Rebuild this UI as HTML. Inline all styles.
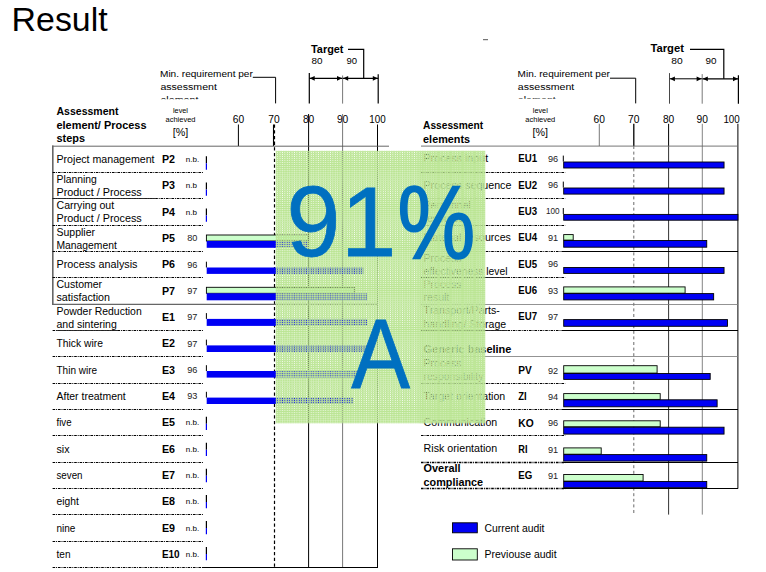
<!DOCTYPE html>
<html><head><meta charset="utf-8"><title>Result</title>
<style>html,body{margin:0;padding:0;background:#fff;overflow:hidden}svg{display:block}text{font-family:"Liberation Sans",sans-serif;}</style></head>
<body>
<svg width="766" height="572" viewBox="0 0 766 572">
<text x="11.6" y="31.4" font-size="34" textLength="96.0" lengthAdjust="spacingAndGlyphs">Result</text>
<line x1="483" y1="39.70" x2="488" y2="39.70" stroke="#555" stroke-width="1"/>
<text x="160.0" y="76.7" font-size="9.6" textLength="92.8" lengthAdjust="spacingAndGlyphs">Min. requirement per</text>
<text x="160.4" y="89.9" font-size="9.6" textLength="56.5" lengthAdjust="spacingAndGlyphs">assessment</text>
<clipPath id="cl1"><rect x="150" y="90" width="120" height="9.2"/></clipPath>
<text x="160.4" y="103.0" font-size="9.6" textLength="38.0" lengthAdjust="spacingAndGlyphs" clip-path="url(#cl1)">element</text>
<polyline points="252.8,77.3 275.6,77.3 275.6,103.4" fill="none" stroke="#000" stroke-width="1"/>
<text x="311" y="52.8" font-size="11.3" font-weight="bold" textLength="32.5" lengthAdjust="spacingAndGlyphs">Target</text>
<text x="311.4" y="63.6" font-size="9.3" textLength="11.0" lengthAdjust="spacingAndGlyphs">80</text>
<text x="346.4" y="63.6" font-size="9.3" textLength="10.6" lengthAdjust="spacingAndGlyphs">90</text>
<polyline points="348,49.3 363.7,49.3 363.7,78.3" fill="none" stroke="#000" stroke-width="1.2"/>
<line x1="309.3" y1="78.30" x2="342.6" y2="78.30" stroke="#000" stroke-width="1.3"/>
<line x1="342.6" y1="78.30" x2="378.2" y2="78.30" stroke="#000" stroke-width="1.3"/>
<polygon points="309.7,78.3 314.7,75.89999999999999 314.7,80.7" fill="#000"/>
<polygon points="342.0,78.3 337.0,75.89999999999999 337.0,80.7" fill="#000"/>
<polygon points="343.20000000000005,78.3 348.20000000000005,75.89999999999999 348.20000000000005,80.7" fill="#000"/>
<polygon points="377.8,78.3 372.8,75.89999999999999 372.8,80.7" fill="#000"/>
<line x1="309.3" y1="73.00" x2="309.3" y2="103.60" stroke="#000" stroke-width="1.2"/>
<line x1="342.6" y1="75.50" x2="342.6" y2="103.60" stroke="#555" stroke-width="0.8"/>
<line x1="378.2" y1="74.20" x2="378.2" y2="103.60" stroke="#000" stroke-width="1.2"/>
<text x="56.5" y="114.9" font-size="10.5" font-weight="bold" textLength="62.0" lengthAdjust="spacingAndGlyphs">Assessment</text>
<text x="56.5" y="128.6" font-size="10.5" font-weight="bold" textLength="90.0" lengthAdjust="spacingAndGlyphs">element/ Process</text>
<text x="56.5" y="142.3" font-size="10.5" font-weight="bold" textLength="28.5" lengthAdjust="spacingAndGlyphs">steps</text>
<text x="180.5" y="112.6" font-size="7" text-anchor="middle" textLength="15.0" lengthAdjust="spacingAndGlyphs">level</text>
<text x="180.5" y="122.4" font-size="7" text-anchor="middle" textLength="30.0" lengthAdjust="spacingAndGlyphs">achieved</text>
<text x="180.5" y="136.2" font-size="10.5" text-anchor="middle" textLength="15.5" lengthAdjust="spacingAndGlyphs">[%]</text>
<text x="238.4" y="122.5" font-size="10.5" text-anchor="middle" textLength="11.4" lengthAdjust="spacingAndGlyphs">60</text>
<text x="273.9" y="122.5" font-size="10.5" text-anchor="middle" textLength="11.4" lengthAdjust="spacingAndGlyphs">70</text>
<text x="308.6" y="122.5" font-size="10.5" text-anchor="middle" textLength="11.4" lengthAdjust="spacingAndGlyphs">80</text>
<text x="342.6" y="122.5" font-size="10.5" text-anchor="middle" textLength="11.4" lengthAdjust="spacingAndGlyphs">90</text>
<text x="377.5" y="122.5" font-size="10.5" text-anchor="middle" textLength="16.4" lengthAdjust="spacingAndGlyphs">100</text>
<line x1="238.4" y1="124.50" x2="238.4" y2="146.00" stroke="#000" stroke-width="1"/>
<line x1="273.5" y1="124.50" x2="273.5" y2="146.00" stroke="#000" stroke-width="1.1"/>
<line x1="274.5" y1="124.50" x2="274.5" y2="567.00" stroke="#000" stroke-width="1.2" stroke-dasharray="3.3 2.4"/>
<line x1="308.6" y1="114.00" x2="308.6" y2="567.00" stroke="#000" stroke-width="1"/>
<line x1="342.6" y1="114.00" x2="342.6" y2="567.00" stroke="#555" stroke-width="0.8"/>
<line x1="377.5" y1="124.50" x2="377.5" y2="567.00" stroke="#000" stroke-width="1"/>
<line x1="52" y1="146.20" x2="389" y2="146.20" stroke="#555" stroke-width="0.9"/>
<line x1="202" y1="567.50" x2="378" y2="567.50" stroke="#000" stroke-width="1.2"/>
<line x1="52.8" y1="145.50" x2="52.8" y2="304.90" stroke="#666" stroke-width="1.6"/>
<line x1="52" y1="304.40" x2="378" y2="304.40" stroke="#666" stroke-width="1.1"/>
<line x1="52.6" y1="172.50" x2="203.8" y2="172.50" stroke="#000" stroke-width="1" stroke-dasharray="2.6 0.9 1 0.9"/>
<text x="56.5" y="162.8" font-size="10.5" textLength="98.0" lengthAdjust="spacingAndGlyphs">Project management</text>
<text x="161.9" y="162.9" font-size="10.8" font-weight="bold" textLength="13.1" lengthAdjust="spacingAndGlyphs">P2</text>
<text x="185.8" y="162.0" font-size="7.3" textLength="13.4" lengthAdjust="spacingAndGlyphs">n.b.</text>
<line x1="206.4" y1="156.36" x2="206.4" y2="163.36" stroke="#000" stroke-width="1.2"/>
<line x1="206.4" y1="163.36" x2="206.4" y2="169.66" stroke="#0000f4" stroke-width="1.2"/>
<line x1="52.6" y1="198.50" x2="203.8" y2="198.50" stroke="#000" stroke-width="1" stroke-dasharray="2.6 0.9 1 0.9"/>
<line x1="53" y1="198.50" x2="155" y2="198.50" stroke="#222" stroke-width="0.9"/>
<text x="56.5" y="182.8" font-size="10.5" textLength="40.4" lengthAdjust="spacingAndGlyphs">Planning</text>
<text x="56.5" y="195.9" font-size="10.5" textLength="85.2" lengthAdjust="spacingAndGlyphs">Product / Process</text>
<text x="161.9" y="189.2" font-size="10.8" font-weight="bold" textLength="13.1" lengthAdjust="spacingAndGlyphs">P3</text>
<text x="185.8" y="188.3" font-size="7.3" textLength="11.2" lengthAdjust="spacingAndGlyphs">n.b</text>
<line x1="206.4" y1="182.40" x2="206.4" y2="189.40" stroke="#000" stroke-width="1.2"/>
<line x1="206.4" y1="189.40" x2="206.4" y2="195.70" stroke="#0000f4" stroke-width="1.2"/>
<line x1="52.6" y1="225.50" x2="203.8" y2="225.50" stroke="#000" stroke-width="1" stroke-dasharray="2.6 0.9 1 0.9"/>
<text x="56.5" y="209.1" font-size="10.5" textLength="57.7" lengthAdjust="spacingAndGlyphs">Carrying out</text>
<text x="56.5" y="222.2" font-size="10.5" textLength="85.2" lengthAdjust="spacingAndGlyphs">Product / Process</text>
<text x="161.9" y="215.5" font-size="10.8" font-weight="bold" textLength="13.1" lengthAdjust="spacingAndGlyphs">P4</text>
<text x="185.8" y="214.6" font-size="7.3" textLength="11.2" lengthAdjust="spacingAndGlyphs">n.b</text>
<line x1="206.4" y1="208.44" x2="206.4" y2="215.44" stroke="#000" stroke-width="1.2"/>
<line x1="206.4" y1="215.44" x2="206.4" y2="221.74" stroke="#0000f4" stroke-width="1.2"/>
<line x1="52.6" y1="251.50" x2="203.8" y2="251.50" stroke="#000" stroke-width="1" stroke-dasharray="2.6 0.9 1 0.9"/>
<text x="56.5" y="235.5" font-size="10.5" textLength="38.5" lengthAdjust="spacingAndGlyphs">Supplier</text>
<text x="56.5" y="248.6" font-size="10.5" textLength="60.3" lengthAdjust="spacingAndGlyphs">Management</text>
<text x="161.9" y="241.9" font-size="10.8" font-weight="bold" textLength="13.1" lengthAdjust="spacingAndGlyphs">P5</text>
<text x="192.3" y="241.4" font-size="9.2" text-anchor="middle" fill="#222" textLength="10.2" lengthAdjust="spacingAndGlyphs">80</text>
<rect x="206.40" y="235.00" width="101.56" height="6.00" fill="#ccffcc" stroke="#000" stroke-width="0.9"/>
<rect x="206.70" y="241.00" width="101.26" height="6.80" fill="#0000f4"/>
<line x1="52.6" y1="277.50" x2="203.8" y2="277.50" stroke="#000" stroke-width="1" stroke-dasharray="2.6 0.9 1 0.9"/>
<text x="56.5" y="268.1" font-size="10.5" textLength="81.0" lengthAdjust="spacingAndGlyphs">Process analysis</text>
<text x="161.9" y="268.2" font-size="10.8" font-weight="bold" textLength="13.1" lengthAdjust="spacingAndGlyphs">P6</text>
<text x="192.3" y="267.7" font-size="9.2" text-anchor="middle" fill="#222" textLength="10.2" lengthAdjust="spacingAndGlyphs">96</text>
<line x1="206.4" y1="261.70" x2="206.4" y2="267.50" stroke="#000" stroke-width="1"/>
<rect x="206.70" y="267.50" width="156.91" height="6.40" fill="#0000f4"/>
<text x="56.5" y="288.2" font-size="10.5" textLength="45.6" lengthAdjust="spacingAndGlyphs">Customer</text>
<text x="56.5" y="301.3" font-size="10.5" textLength="53.5" lengthAdjust="spacingAndGlyphs">satisfaction</text>
<text x="161.9" y="294.6" font-size="10.8" font-weight="bold" textLength="13.1" lengthAdjust="spacingAndGlyphs">P7</text>
<text x="192.3" y="294.1" font-size="9.2" text-anchor="middle" fill="#222" textLength="10.2" lengthAdjust="spacingAndGlyphs">97</text>
<rect x="206.40" y="287.30" width="147.82" height="6.00" fill="#ccffcc" stroke="#000" stroke-width="0.9"/>
<rect x="206.70" y="293.30" width="160.39" height="7.00" fill="#0000f4"/>
<line x1="52.6" y1="330.50" x2="203.8" y2="330.50" stroke="#000" stroke-width="1" stroke-dasharray="2.6 0.9 1 0.9"/>
<line x1="56" y1="330.50" x2="118" y2="330.50" stroke="#222" stroke-width="0.9"/>
<text x="56.5" y="314.5" font-size="10.5" textLength="85.2" lengthAdjust="spacingAndGlyphs">Powder Reduction</text>
<text x="56.5" y="327.6" font-size="10.5" textLength="60.3" lengthAdjust="spacingAndGlyphs">and sintering</text>
<text x="161.9" y="320.9" font-size="10.8" font-weight="bold" textLength="13.1" lengthAdjust="spacingAndGlyphs">E1</text>
<text x="192.3" y="320.4" font-size="9.2" text-anchor="middle" fill="#222" textLength="10.2" lengthAdjust="spacingAndGlyphs">97</text>
<line x1="206.4" y1="313.10" x2="206.4" y2="318.90" stroke="#000" stroke-width="1"/>
<rect x="206.70" y="318.90" width="160.39" height="7.00" fill="#0000f4"/>
<line x1="52.6" y1="356.50" x2="203.8" y2="356.50" stroke="#000" stroke-width="1" stroke-dasharray="2.6 0.9 1 0.9"/>
<text x="56.5" y="347.1" font-size="10.5" textLength="46.4" lengthAdjust="spacingAndGlyphs">Thick wire</text>
<text x="161.9" y="347.2" font-size="10.8" font-weight="bold" textLength="13.1" lengthAdjust="spacingAndGlyphs">E2</text>
<text x="192.3" y="346.7" font-size="9.2" text-anchor="middle" fill="#222" textLength="10.2" lengthAdjust="spacingAndGlyphs">97</text>
<line x1="206.4" y1="339.60" x2="206.4" y2="345.40" stroke="#000" stroke-width="1"/>
<rect x="206.70" y="345.40" width="160.39" height="6.60" fill="#0000f4"/>
<line x1="52.6" y1="383.50" x2="203.8" y2="383.50" stroke="#000" stroke-width="1" stroke-dasharray="2.6 0.9 1 0.9"/>
<text x="56.5" y="373.5" font-size="10.5" textLength="40.6" lengthAdjust="spacingAndGlyphs">Thin wire</text>
<text x="161.9" y="373.6" font-size="10.8" font-weight="bold" textLength="13.1" lengthAdjust="spacingAndGlyphs">E3</text>
<text x="192.3" y="373.1" font-size="9.2" text-anchor="middle" fill="#222" textLength="10.2" lengthAdjust="spacingAndGlyphs">96</text>
<line x1="206.4" y1="365.20" x2="206.4" y2="371.00" stroke="#000" stroke-width="1"/>
<rect x="206.70" y="371.00" width="156.91" height="6.60" fill="#0000f4"/>
<line x1="52.6" y1="409.50" x2="203.8" y2="409.50" stroke="#000" stroke-width="1" stroke-dasharray="2.6 0.9 1 0.9"/>
<text x="56.5" y="399.8" font-size="10.5" textLength="69.2" lengthAdjust="spacingAndGlyphs">After treatment</text>
<text x="161.9" y="399.9" font-size="10.8" font-weight="bold" textLength="13.1" lengthAdjust="spacingAndGlyphs">E4</text>
<text x="192.3" y="399.4" font-size="9.2" text-anchor="middle" fill="#222" textLength="10.2" lengthAdjust="spacingAndGlyphs">93</text>
<line x1="206.4" y1="391.80" x2="206.4" y2="397.60" stroke="#000" stroke-width="1"/>
<rect x="206.70" y="397.60" width="146.47" height="6.40" fill="#0000f4"/>
<line x1="52.6" y1="435.50" x2="203.8" y2="435.50" stroke="#000" stroke-width="1" stroke-dasharray="2.6 0.9 1 0.9"/>
<text x="56.5" y="426.2" font-size="10.5" textLength="15.0" lengthAdjust="spacingAndGlyphs">five</text>
<text x="161.9" y="426.3" font-size="10.8" font-weight="bold" textLength="13.1" lengthAdjust="spacingAndGlyphs">E5</text>
<text x="185.8" y="425.4" font-size="7.3" textLength="13.4" lengthAdjust="spacingAndGlyphs">n.b.</text>
<line x1="206.4" y1="416.76" x2="206.4" y2="423.76" stroke="#000" stroke-width="1.2"/>
<line x1="206.4" y1="423.76" x2="206.4" y2="430.06" stroke="#0000f4" stroke-width="1.2"/>
<line x1="52.6" y1="462.50" x2="203.8" y2="462.50" stroke="#000" stroke-width="1" stroke-dasharray="2.6 0.9 1 0.9"/>
<text x="56.5" y="452.5" font-size="10.5" textLength="13.1" lengthAdjust="spacingAndGlyphs">six</text>
<text x="161.9" y="452.6" font-size="10.8" font-weight="bold" textLength="13.1" lengthAdjust="spacingAndGlyphs">E6</text>
<text x="185.8" y="451.7" font-size="7.3" textLength="13.4" lengthAdjust="spacingAndGlyphs">n.b.</text>
<line x1="206.4" y1="442.80" x2="206.4" y2="449.80" stroke="#000" stroke-width="1.2"/>
<line x1="206.4" y1="449.80" x2="206.4" y2="456.10" stroke="#0000f4" stroke-width="1.2"/>
<line x1="52.6" y1="488.50" x2="203.8" y2="488.50" stroke="#000" stroke-width="1" stroke-dasharray="2.6 0.9 1 0.9"/>
<text x="56.5" y="478.8" font-size="10.5" textLength="26.0" lengthAdjust="spacingAndGlyphs">seven</text>
<text x="161.9" y="478.9" font-size="10.8" font-weight="bold" textLength="13.1" lengthAdjust="spacingAndGlyphs">E7</text>
<text x="185.8" y="478.0" font-size="7.3" textLength="13.4" lengthAdjust="spacingAndGlyphs">n.b.</text>
<line x1="206.4" y1="468.84" x2="206.4" y2="475.84" stroke="#000" stroke-width="1.2"/>
<line x1="206.4" y1="475.84" x2="206.4" y2="482.14" stroke="#0000f4" stroke-width="1.2"/>
<line x1="52.6" y1="514.50" x2="203.8" y2="514.50" stroke="#000" stroke-width="1" stroke-dasharray="2.6 0.9 1 0.9"/>
<text x="56.5" y="505.2" font-size="10.5" textLength="22.3" lengthAdjust="spacingAndGlyphs">eight</text>
<text x="161.9" y="505.3" font-size="10.8" font-weight="bold" textLength="13.1" lengthAdjust="spacingAndGlyphs">E8</text>
<text x="185.8" y="504.4" font-size="7.3" textLength="13.4" lengthAdjust="spacingAndGlyphs">n.b.</text>
<line x1="206.4" y1="494.88" x2="206.4" y2="501.88" stroke="#000" stroke-width="1.2"/>
<line x1="206.4" y1="501.88" x2="206.4" y2="508.18" stroke="#0000f4" stroke-width="1.2"/>
<line x1="52.6" y1="541.50" x2="203.8" y2="541.50" stroke="#000" stroke-width="1" stroke-dasharray="2.6 0.9 1 0.9"/>
<text x="56.5" y="531.5" font-size="10.5" textLength="18.9" lengthAdjust="spacingAndGlyphs">nine</text>
<text x="161.9" y="531.6" font-size="10.8" font-weight="bold" textLength="13.1" lengthAdjust="spacingAndGlyphs">E9</text>
<text x="185.8" y="530.7" font-size="7.3" textLength="13.4" lengthAdjust="spacingAndGlyphs">n.b.</text>
<line x1="206.4" y1="520.92" x2="206.4" y2="527.92" stroke="#000" stroke-width="1.2"/>
<line x1="206.4" y1="527.92" x2="206.4" y2="534.22" stroke="#0000f4" stroke-width="1.2"/>
<line x1="52.6" y1="567.50" x2="203.8" y2="567.50" stroke="#000" stroke-width="1" stroke-dasharray="2.6 0.9 1 0.9"/>
<text x="56.5" y="557.9" font-size="10.5" textLength="14.0" lengthAdjust="spacingAndGlyphs">ten</text>
<text x="161.9" y="558.0" font-size="10.8" font-weight="bold" textLength="17.8" lengthAdjust="spacingAndGlyphs">E10</text>
<text x="185.8" y="557.1" font-size="7.3" textLength="13.4" lengthAdjust="spacingAndGlyphs">n.b.</text>
<line x1="206.4" y1="546.96" x2="206.4" y2="553.96" stroke="#000" stroke-width="1.2"/>
<line x1="206.4" y1="553.96" x2="206.4" y2="560.26" stroke="#0000f4" stroke-width="1.2"/>
<text x="517.6" y="76.7" font-size="9.6" textLength="92.2" lengthAdjust="spacingAndGlyphs">Min. requirement per</text>
<text x="517.8" y="89.9" font-size="9.6" textLength="56.5" lengthAdjust="spacingAndGlyphs">assessment</text>
<clipPath id="cl2"><rect x="510" y="90" width="120" height="8.8"/></clipPath>
<text x="517.8" y="102.6" font-size="9.6" textLength="38.0" lengthAdjust="spacingAndGlyphs" clip-path="url(#cl2)">element</text>
<polyline points="610,78.2 635.7,78.2 635.7,103.4" fill="none" stroke="#000" stroke-width="1"/>
<text x="650.4" y="51.8" font-size="11.3" font-weight="bold" textLength="33.5" lengthAdjust="spacingAndGlyphs">Target</text>
<text x="671.2" y="63.7" font-size="9.3" textLength="11.4" lengthAdjust="spacingAndGlyphs">80</text>
<text x="705.5" y="63.7" font-size="9.3" textLength="11.0" lengthAdjust="spacingAndGlyphs">90</text>
<polyline points="690,49.4 723.8,49.4 723.8,78.8" fill="none" stroke="#000" stroke-width="1.2"/>
<line x1="669.5" y1="78.80" x2="702.2" y2="78.80" stroke="#000" stroke-width="1.0"/>
<line x1="702.2" y1="78.80" x2="738.4" y2="78.80" stroke="#000" stroke-width="1.3"/>
<polygon points="669.9,78.8 674.9,76.39999999999999 674.9,81.2" fill="#000"/>
<polygon points="701.6,78.8 696.6,76.39999999999999 696.6,81.2" fill="#000"/>
<polygon points="702.8000000000001,78.8 707.8000000000001,76.39999999999999 707.8000000000001,81.2" fill="#000"/>
<polygon points="738.0,78.8 733.0,76.39999999999999 733.0,81.2" fill="#000"/>
<line x1="669.5" y1="73.10" x2="669.5" y2="103.70" stroke="#333" stroke-width="0.9"/>
<line x1="702.2" y1="74.10" x2="702.2" y2="103.70" stroke="#555" stroke-width="0.8"/>
<line x1="738.4" y1="75.20" x2="738.4" y2="103.70" stroke="#000" stroke-width="1.2"/>
<text x="423.1" y="129.1" font-size="10.5" font-weight="bold" textLength="60.0" lengthAdjust="spacingAndGlyphs">Assessment</text>
<text x="423.1" y="142.7" font-size="10.5" font-weight="bold" textLength="47.0" lengthAdjust="spacingAndGlyphs">elements</text>
<text x="540.3" y="112.6" font-size="7" text-anchor="middle" textLength="15.0" lengthAdjust="spacingAndGlyphs">level</text>
<text x="540.3" y="122.4" font-size="7" text-anchor="middle" textLength="30.0" lengthAdjust="spacingAndGlyphs">achieved</text>
<text x="540.3" y="136.2" font-size="10.5" text-anchor="middle" textLength="15.5" lengthAdjust="spacingAndGlyphs">[%]</text>
<text x="599.3" y="122.5" font-size="10.5" text-anchor="middle" textLength="11.4" lengthAdjust="spacingAndGlyphs">60</text>
<text x="633.8" y="122.5" font-size="10.5" text-anchor="middle" textLength="11.4" lengthAdjust="spacingAndGlyphs">70</text>
<text x="668.6" y="122.5" font-size="10.5" text-anchor="middle" textLength="11.4" lengthAdjust="spacingAndGlyphs">80</text>
<text x="702.3" y="122.5" font-size="10.5" text-anchor="middle" textLength="11.4" lengthAdjust="spacingAndGlyphs">90</text>
<text x="739.8" y="122.5" font-size="10.5" text-anchor="end" textLength="16.4" lengthAdjust="spacingAndGlyphs">100</text>
<line x1="599.3" y1="123.80" x2="599.3" y2="146.00" stroke="#555" stroke-width="0.8"/>
<line x1="633.8" y1="123.80" x2="633.8" y2="146.00" stroke="#000" stroke-width="1.3"/>
<line x1="633.8" y1="146.00" x2="633.8" y2="514.60" stroke="#444" stroke-width="0.8" stroke-dasharray="3 2.6"/>
<line x1="668.6" y1="123.80" x2="668.6" y2="146.00" stroke="#000" stroke-width="1"/>
<line x1="668.6" y1="146.00" x2="668.6" y2="514.60" stroke="#333" stroke-width="1"/>
<line x1="702.3" y1="123.80" x2="702.3" y2="514.60" stroke="#666" stroke-width="0.8"/>
<line x1="737.9" y1="123.80" x2="737.9" y2="488.60" stroke="#000" stroke-width="1"/>
<line x1="421" y1="146.10" x2="738" y2="146.10" stroke="#666" stroke-width="0.9"/>
<line x1="421" y1="172.50" x2="565.2" y2="172.50" stroke="#000" stroke-width="1" stroke-dasharray="2.6 0.9 1 0.9"/>
<text x="423.6" y="162.3" font-size="10.5" textLength="64.5" lengthAdjust="spacingAndGlyphs">Process input</text>
<text x="518.3" y="162.2" font-size="10.8" font-weight="bold" textLength="18.8" lengthAdjust="spacingAndGlyphs">EU1</text>
<text x="553.1" y="161.8" font-size="9.2" text-anchor="middle" fill="#222" textLength="10.2" lengthAdjust="spacingAndGlyphs">96</text>
<line x1="563.3" y1="155.60" x2="563.3" y2="161.60" stroke="#000" stroke-width="1"/>
<rect x="563.70" y="162.00" width="160.35" height="6.00" fill="#0000f4" stroke="#000" stroke-width="0.9"/>
<line x1="421" y1="198.50" x2="565.2" y2="198.50" stroke="#000" stroke-width="1" stroke-dasharray="2.6 0.9 1 0.9"/>
<text x="423.6" y="188.6" font-size="10.5" textLength="87.8" lengthAdjust="spacingAndGlyphs">Process sequence</text>
<text x="518.3" y="188.5" font-size="10.8" font-weight="bold" textLength="18.8" lengthAdjust="spacingAndGlyphs">EU2</text>
<text x="553.1" y="188.1" font-size="9.2" text-anchor="middle" fill="#222" textLength="10.2" lengthAdjust="spacingAndGlyphs">96</text>
<line x1="563.3" y1="181.60" x2="563.3" y2="187.60" stroke="#000" stroke-width="1"/>
<rect x="563.70" y="188.00" width="160.35" height="6.10" fill="#0000f4" stroke="#000" stroke-width="0.9"/>
<line x1="421" y1="225.50" x2="565.2" y2="225.50" stroke="#000" stroke-width="1" stroke-dasharray="2.6 0.9 1 0.9"/>
<text x="423.6" y="209.0" font-size="10.5" textLength="47.2" lengthAdjust="spacingAndGlyphs">Personnel</text>
<text x="423.6" y="222.1" font-size="10.5" textLength="45.4" lengthAdjust="spacingAndGlyphs">resources</text>
<text x="518.3" y="214.8" font-size="10.8" font-weight="bold" textLength="18.8" lengthAdjust="spacingAndGlyphs">EU3</text>
<text x="552.8" y="214.4" font-size="9.2" text-anchor="middle" fill="#222" textLength="13.6" lengthAdjust="spacingAndGlyphs">100</text>
<line x1="563.3" y1="208.00" x2="563.3" y2="214.00" stroke="#000" stroke-width="1"/>
<rect x="563.70" y="214.40" width="174.20" height="5.80" fill="#0000f4" stroke="#000" stroke-width="0.9"/>
<line x1="421" y1="251.50" x2="565.2" y2="251.50" stroke="#000" stroke-width="1" stroke-dasharray="2.6 0.9 1 0.9"/>
<line x1="563" y1="251.50" x2="738" y2="251.50" stroke="#000" stroke-width="1.1"/>
<text x="423.6" y="241.3" font-size="10.5" textLength="87.3" lengthAdjust="spacingAndGlyphs">Material resources</text>
<text x="518.3" y="241.2" font-size="10.8" font-weight="bold" textLength="18.8" lengthAdjust="spacingAndGlyphs">EU4</text>
<text x="553.1" y="240.8" font-size="9.2" text-anchor="middle" fill="#222" textLength="10.2" lengthAdjust="spacingAndGlyphs">91</text>
<rect x="563.70" y="234.60" width="9.50" height="5.50" fill="#ccffcc" stroke="#000" stroke-width="0.9"/>
<rect x="563.70" y="240.50" width="143.04" height="6.70" fill="#0000f4" stroke="#000" stroke-width="0.9"/>
<line x1="421" y1="277.50" x2="565.2" y2="277.50" stroke="#000" stroke-width="1" stroke-dasharray="2.6 0.9 1 0.9"/>
<line x1="423" y1="277.50" x2="508" y2="277.50" stroke="#222" stroke-width="0.9"/>
<text x="423.6" y="261.7" font-size="10.5" textLength="38.0" lengthAdjust="spacingAndGlyphs">Process</text>
<text x="423.6" y="274.8" font-size="10.5" textLength="83.9" lengthAdjust="spacingAndGlyphs">effectiveness level</text>
<text x="518.3" y="267.5" font-size="10.8" font-weight="bold" textLength="18.8" lengthAdjust="spacingAndGlyphs">EU5</text>
<text x="553.1" y="267.1" font-size="9.2" text-anchor="middle" fill="#222" textLength="10.2" lengthAdjust="spacingAndGlyphs">96</text>
<rect x="563.70" y="267.50" width="160.35" height="5.90" fill="#0000f4" stroke="#000" stroke-width="0.9"/>
<line x1="421" y1="304.50" x2="738" y2="304.50" stroke="#777" stroke-width="0.8"/>
<text x="423.6" y="288.1" font-size="10.5" textLength="38.0" lengthAdjust="spacingAndGlyphs">Process</text>
<text x="423.6" y="301.2" font-size="10.5" textLength="25.7" lengthAdjust="spacingAndGlyphs">result</text>
<text x="518.3" y="293.9" font-size="10.8" font-weight="bold" textLength="18.8" lengthAdjust="spacingAndGlyphs">EU6</text>
<text x="553.1" y="293.5" font-size="9.2" text-anchor="middle" fill="#222" textLength="10.2" lengthAdjust="spacingAndGlyphs">93</text>
<rect x="563.70" y="286.90" width="121.40" height="6.30" fill="#ccffcc" stroke="#000" stroke-width="0.9"/>
<rect x="563.70" y="293.60" width="149.96" height="6.30" fill="#0000f4" stroke="#000" stroke-width="0.9"/>
<line x1="421" y1="330.50" x2="565.2" y2="330.50" stroke="#000" stroke-width="1" stroke-dasharray="2.6 0.9 1 0.9"/>
<line x1="563" y1="330.50" x2="738" y2="330.50" stroke="#000" stroke-width="1.1"/>
<line x1="423" y1="330.50" x2="507" y2="330.50" stroke="#222" stroke-width="0.9"/>
<text x="423.6" y="314.4" font-size="10.5" textLength="76.3" lengthAdjust="spacingAndGlyphs">Transport/Parts-</text>
<text x="423.6" y="327.5" font-size="10.5" textLength="82.6" lengthAdjust="spacingAndGlyphs">handling/ Storage</text>
<text x="518.3" y="320.2" font-size="10.8" font-weight="bold" textLength="18.8" lengthAdjust="spacingAndGlyphs">EU7</text>
<text x="553.1" y="319.8" font-size="9.2" text-anchor="middle" fill="#222" textLength="10.2" lengthAdjust="spacingAndGlyphs">97</text>
<rect x="563.70" y="319.60" width="163.81" height="6.70" fill="#0000f4" stroke="#000" stroke-width="0.9"/>
<line x1="421" y1="356.50" x2="738" y2="356.50" stroke="#777" stroke-width="0.8"/>
<text x="423.6" y="353.1" font-size="10.5" font-weight="bold" textLength="87.8" lengthAdjust="spacingAndGlyphs">Generic baseline</text>
<line x1="421" y1="383.50" x2="565.2" y2="383.50" stroke="#000" stroke-width="1" stroke-dasharray="2.6 0.9 1 0.9"/>
<text x="423.6" y="367.1" font-size="10.5" textLength="38.0" lengthAdjust="spacingAndGlyphs">Process</text>
<text x="423.6" y="380.2" font-size="10.5" textLength="59.8" lengthAdjust="spacingAndGlyphs">responsibility</text>
<text x="518.3" y="374.0" font-size="10.8" font-weight="bold" textLength="13.5" lengthAdjust="spacingAndGlyphs">PV</text>
<text x="553.1" y="373.6" font-size="9.2" text-anchor="middle" fill="#222" textLength="10.2" lengthAdjust="spacingAndGlyphs">92</text>
<rect x="563.70" y="365.70" width="93.40" height="7.40" fill="#ccffcc" stroke="#000" stroke-width="0.9"/>
<rect x="563.70" y="373.50" width="146.50" height="5.90" fill="#0000f4" stroke="#000" stroke-width="0.9"/>
<line x1="421" y1="409.50" x2="565.2" y2="409.50" stroke="#000" stroke-width="1" stroke-dasharray="2.6 0.9 1 0.9"/>
<line x1="563" y1="409.50" x2="738" y2="409.50" stroke="#000" stroke-width="1.1"/>
<text x="423.6" y="399.7" font-size="10.5" textLength="81.6" lengthAdjust="spacingAndGlyphs">Target orientation</text>
<text x="518.3" y="400.3" font-size="10.8" font-weight="bold" textLength="8.4" lengthAdjust="spacingAndGlyphs">ZI</text>
<text x="553.1" y="399.9" font-size="9.2" text-anchor="middle" fill="#222" textLength="10.2" lengthAdjust="spacingAndGlyphs">94</text>
<rect x="563.70" y="393.60" width="96.50" height="5.80" fill="#ccffcc" stroke="#000" stroke-width="0.9"/>
<rect x="563.70" y="399.80" width="153.43" height="7.00" fill="#0000f4" stroke="#000" stroke-width="0.9"/>
<line x1="421" y1="435.50" x2="565.2" y2="435.50" stroke="#000" stroke-width="1" stroke-dasharray="2.6 0.9 1 0.9"/>
<text x="423.6" y="426.1" font-size="10.5" textLength="73.6" lengthAdjust="spacingAndGlyphs">Communication</text>
<text x="518.3" y="426.7" font-size="10.8" font-weight="bold" textLength="15.4" lengthAdjust="spacingAndGlyphs">KO</text>
<text x="553.1" y="426.3" font-size="9.2" text-anchor="middle" fill="#222" textLength="10.2" lengthAdjust="spacingAndGlyphs">96</text>
<rect x="563.70" y="420.80" width="96.50" height="6.00" fill="#ccffcc" stroke="#000" stroke-width="0.9"/>
<rect x="563.70" y="427.20" width="160.35" height="6.90" fill="#0000f4" stroke="#000" stroke-width="0.9"/>
<line x1="421" y1="462.50" x2="565.2" y2="462.50" stroke="#000" stroke-width="1.3" stroke-dasharray="2.6 0.9 1 0.9"/>
<line x1="563" y1="462.50" x2="738" y2="462.50" stroke="#000" stroke-width="1.1"/>
<text x="423.6" y="452.4" font-size="10.5" textLength="73.6" lengthAdjust="spacingAndGlyphs">Risk orientation</text>
<text x="518.3" y="453.0" font-size="10.8" font-weight="bold" textLength="9.2" lengthAdjust="spacingAndGlyphs">RI</text>
<text x="553.1" y="452.6" font-size="9.2" text-anchor="middle" fill="#222" textLength="10.2" lengthAdjust="spacingAndGlyphs">91</text>
<rect x="563.70" y="447.90" width="37.50" height="6.30" fill="#ccffcc" stroke="#000" stroke-width="0.9"/>
<rect x="563.70" y="454.60" width="143.04" height="6.50" fill="#0000f4" stroke="#000" stroke-width="0.9"/>
<line x1="421" y1="488.50" x2="565.2" y2="488.50" stroke="#000" stroke-width="1.3" stroke-dasharray="2.6 0.9 1 0.9"/>
<line x1="563" y1="488.50" x2="738" y2="488.50" stroke="#000" stroke-width="1.1"/>
<text x="423.6" y="472.4" font-size="10.5" font-weight="bold" textLength="36.9" lengthAdjust="spacingAndGlyphs">Overall</text>
<text x="423.6" y="485.5" font-size="10.5" font-weight="bold" textLength="59.5" lengthAdjust="spacingAndGlyphs">compliance</text>
<text x="518.3" y="479.3" font-size="10.8" font-weight="bold" textLength="14.0" lengthAdjust="spacingAndGlyphs">EG</text>
<text x="553.1" y="478.9" font-size="9.2" text-anchor="middle" fill="#222" textLength="10.2" lengthAdjust="spacingAndGlyphs">91</text>
<rect x="563.70" y="474.50" width="79.40" height="6.60" fill="#ccffcc" stroke="#000" stroke-width="0.9"/>
<rect x="563.70" y="481.50" width="143.04" height="6.20" fill="#0000f4" stroke="#000" stroke-width="0.9"/>
<rect x="452.50" y="522.80" width="24.80" height="10.00" fill="#0000f4" stroke="#000" stroke-width="0.9"/>
<text x="484.6" y="531.7" font-size="10.3" textLength="59.8" lengthAdjust="spacingAndGlyphs">Current audit</text>
<rect x="452.50" y="548.80" width="24.80" height="11.20" fill="#ccffcc" stroke="#000" stroke-width="0.9"/>
<text x="484.6" y="557.9" font-size="10.3" textLength="72.0" lengthAdjust="spacingAndGlyphs">Previouse audit</text>
<pattern id="dots" x="275.7" y="150.8" width="2.4" height="2.05" patternUnits="userSpaceOnUse"><rect x="0" y="0" width="2.4" height="1.15" fill="#bbe594"/><rect x="0" y="1.15" width="1.5" height="0.9" fill="#bbe594"/><rect x="1.5" y="1.15" width="0.9" height="0.9" fill="#bbe594" fill-opacity="0.15"/></pattern>
<rect x="419" y="150.8" width="66.2" height="272.5" fill="#bbe594" fill-opacity="0.35"/>
<filter id="soft" x="-2%" y="-2%" width="104%" height="104%"><feGaussianBlur stdDeviation="0.4"/></filter>
<rect x="275.7" y="150.8" width="209.5" height="272.5" fill="url(#dots)" filter="url(#soft)"/>
<text transform="translate(286.45,256.30) scale(0.9675,0.9972)" font-size="100" fill="#0070c0" stroke="#0070c0" stroke-width="0.8">9</text>
<text transform="translate(340.78,256.00) scale(1.0023,0.9797)" font-size="100" fill="#0070c0" stroke="#0070c0" stroke-width="0.8">1</text>
<text transform="translate(397.45,257.98) scale(0.8739,1.0458)" font-size="100" fill="#0070c0" stroke="#0070c0" stroke-width="1.6">%</text>
<text transform="translate(351.22,388.00) scale(0.8822,0.9826)" font-size="100" fill="#0070c0" stroke="#0070c0" stroke-width="0.8">A</text>
</svg>
</body></html>
